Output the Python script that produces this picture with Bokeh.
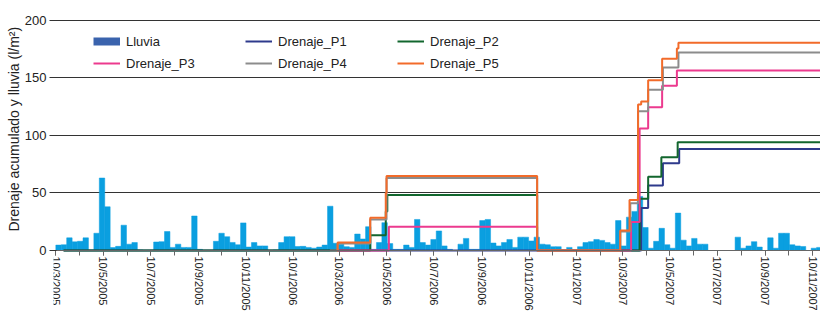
import numpy as np
import pandas as pd
from bokeh.plotting import figure
from bokeh.models import Range1d, FixedTicker, Legend, LegendItem, Title
from bokeh.embed import file_html
from bokeh.resources import INLINE

FONT = "Liberation Sans, Arial, sans-serif"

# ---------------- data ----------------
# weekly rainfall (l/m2), periods starting 2005-03-10
rain_start = "2005-03-10"
rain_period_days = 7
rain_mm = [4.7, 5, 11, 7.5, 8, 11, 0.5, 15, 63, 38,
           2.5, 3.6, 22, 5.5, 6.9, 0.5, 0, 0, 7.4, 7.7,
           16.5, 2.7, 5.5, 2.7, 2.7, 30, 1, 0, 0, 8,
           15, 12, 7, 5, 24, 3, 6.9, 4, 4, 0,
           0.5, 6.9, 12, 12, 3.5, 3.6, 2.7, 2, 3, 4.7,
           38.5, 6.3, 5.5, 3.3, 2.7, 14.3, 10, 20.7, 1, 6.9,
           24.2, 6, 1, 1, 4.7, 2.7, 27, 6.9, 4.7, 9.6,
           17, 4, 1, 0, 5.5, 10.5, 1, 1, 26, 27,
           6.5, 4, 6.9, 9.6, 2.7, 11.6, 11.6, 8.3, 11.6, 5.5,
           5, 3.3, 3.3, 0, 2.7, 0, 3.3, 6.9, 7.7, 9.6,
           8.8, 6.9, 5.5, 26, 4, 29, 34, 47, 20, 2,
           8, 19.3, 5, 2, 32.5, 9, 4, 10.5, 5.5, 5.5,
           0, 0, 0, 0, 0, 11.6, 2, 4, 7.7, 3,
           0, 11, 2, 15, 15, 5, 4, 3.5, 0, 2,
           2.7]

p1_dates = ["2005-03-20", "2007-04-03", "2007-04-12", "2007-05-01", "2007-05-22", "2007-11-30"]
p1_vals = [0, 37, 56.5, 75.8, 88.2, 88.2]

p2_dates = ["2005-03-20", "2006-04-19", "2006-05-09", "2006-05-11", "2006-11-20",
            "2007-04-01", "2007-04-12", "2007-04-29", "2007-05-20", "2007-11-30"]
p2_vals = [0, 13.2, 34, 48.2, 0, 45, 64, 81, 94.2, 94.2]

p3_dates = ["2006-03-08", "2006-05-13", "2006-11-20", "2007-03-21", "2007-04-01",
            "2007-04-12", "2007-04-30", "2007-05-19", "2007-11-30"]
p3_vals = [0, 20.7, 0, 24.8, 106, 124.5, 143.3, 156.5, 156.5]

p4_dates = ["2006-02-26", "2006-03-08", "2006-04-19", "2006-05-10", "2006-11-20",
            "2007-03-07", "2007-03-20", "2007-03-30", "2007-04-12", "2007-05-01",
            "2007-05-21", "2007-11-30"]
p4_vals = [0, 6, 27, 63, 0, 16.5, 41, 121, 139.7, 159, 172.2, 172.2]

p5_dates = ["2006-03-07", "2006-03-08", "2006-04-19", "2006-05-09", "2006-05-10",
            "2006-11-20", "2007-03-07", "2007-03-19", "2007-03-30", "2007-04-03",
            "2007-04-12", "2007-04-30", "2007-05-19", "2007-05-21", "2007-11-30"]
p5_vals = [0, 7, 28.4, 50, 64.8, 0, 17.4, 44, 127, 129.5, 148, 166.7, 175.5, 180.5, 180.5]

x_tick_labels = ["10/3/2005", "10/5/2005", "10/7/2005", "10/9/2005", "10/11/2005",
                 "10/1/2006", "10/3/2006", "10/5/2006", "10/7/2006", "10/9/2006",
                 "10/11/2006", "10/1/2007", "10/3/2007", "10/5/2007", "10/7/2007",
                 "10/9/2007", "10/11/2007"]
y_ticks = [0, 50, 100, 150, 200]
y_grid = [50, 100, 150, 200]
y_title = "Drenaje acumulado y lluvia (l/m²)"

series_names = ["Drenaje_P1", "Drenaje_P2", "Drenaje_P3", "Drenaje_P4", "Drenaje_P5"]
series_colors = ["#2e3a8c", "#12662e", "#ec3a8e", "#8c8c8c", "#f26b2a"]
rain_color = "#0a9fe0"
rain_legend_color = "#3a63ad"

# ---------------- layout constants ----------------
W, H = 820, 313
BT, BB, BL = 19, 0, 53
frame_h = H - BT - BB
Y_TOP = 200.8
ZERO_PX = 250                       # screen row of y = 0
scale = (ZERO_PX - BT) / Y_TOP
Y_BOTTOM = -(H - ZERO_PX) / scale


def ms(s):
    return int(pd.Timestamp(s).value // 10**6)


DAY = 86400000

p = figure(width=W, height=H, output_backend="svg", toolbar_location=None,
           x_axis_type="datetime",
           x_range=Range1d(ms("2005-03-07"), ms("2007-11-20")),
           y_range=Range1d(Y_BOTTOM, Y_TOP),
           min_border_left=BL, min_border_right=0, min_border_top=BT, min_border_bottom=BB)
p.outline_line_color = None
p.background_fill_color = "white"
p.border_fill_color = "white"

# rainfall bars
starts = pd.Timestamp(rain_start) + pd.to_timedelta(np.arange(len(rain_mm)) * rain_period_days, unit="D")
centers = starts + pd.Timedelta(days=rain_period_days / 2)
p.vbar(x=centers, top=rain_mm, width=rain_period_days * DAY, bottom=0,
       fill_color=rain_color, line_color=rain_color, line_width=0.5)

# legend proxy for rainfall (draws nothing in the plot)
rain_proxy = p.line(x=[np.nan], y=[np.nan], line_color=rain_legend_color, line_width=8,
                    line_cap="butt")

renderers = []
for d, v, c in zip([p1_dates, p2_dates, p3_dates, p4_dates, p5_dates],
                   [p1_vals, p2_vals, p3_vals, p4_vals, p5_vals], series_colors):
    r = p.step(x=pd.to_datetime(d), y=v, mode="after", line_color=c, line_width=2)
    renderers.append(r)

items = [LegendItem(label="Lluvia", renderers=[rain_proxy])]
for name, r in zip(series_names, renderers):
    items.append(LegendItem(label=name, renderers=[r]))

legend_h = 16 * 2 + 6
legend = Legend(items=items, location=(40, frame_h - 14 - legend_h),
                orientation="horizontal", ncols=3,
                glyph_width=27, glyph_height=16, label_height=16, label_width=113,
                label_standoff=6, spacing=6, padding=0, margin=0,
                border_line_alpha=0, background_fill_alpha=0,
                label_text_font=FONT, label_text_font_size="13px", label_text_color="#222222")
p.add_layout(legend)

# x axis (drawn at y = 0)
major = [ms(pd.to_datetime(s, format="%d/%m/%Y")) for s in x_tick_labels]
minor_dates = pd.date_range("2005-03-10", "2007-11-10", freq=pd.DateOffset(months=1))
minor = [ms(t) for t in minor_dates]
xa = p.xaxis[0]
xa.fixed_location = 0
xa.ticker = FixedTicker(ticks=major, minor_ticks=minor)
xa.major_label_overrides = {t: lab for t, lab in zip(major, x_tick_labels)}
xa.major_label_orientation = "vertical"
xa.major_tick_out = 5
xa.major_tick_in = 0
xa.minor_tick_out = 5
xa.minor_tick_in = 0
xa.axis_line_color = "#666666"
xa.major_tick_line_color = "#666666"
xa.minor_tick_line_color = "#666666"
xa.major_label_text_font = FONT
xa.major_label_text_font_size = "11px"
xa.major_label_text_color = "#222222"
xa.major_label_standoff = 1

# y axis
ya = p.yaxis[0]
ya.ticker = FixedTicker(ticks=y_ticks)
ya.axis_line_color = None
ya.major_tick_out = 4
ya.major_tick_in = 3
ya.minor_tick_line_color = None
ya.major_tick_line_color = "#333333"
ya.major_label_standoff = 3
ya.major_label_text_font = FONT
ya.major_label_text_font_size = "13px"
ya.major_label_text_color = "#222222"

# y axis title, positioned along the visible value range
title_len_px = 205
title_center = (BT + ZERO_PX) / 2 - 6
ytitle = Title(text=y_title, align="left", offset=H - (title_center + title_len_px / 2),
               standoff=0, text_font=FONT, text_font_size="14px", text_font_style="normal",
               text_color="#222222")
p.add_layout(ytitle, "left")

p.xgrid.visible = False
p.ygrid.ticker = FixedTicker(ticks=y_grid)
p.ygrid.grid_line_color = "#333333"
p.ygrid.grid_line_width = 1

open("out.html", "w").write(file_html(p, INLINE))
